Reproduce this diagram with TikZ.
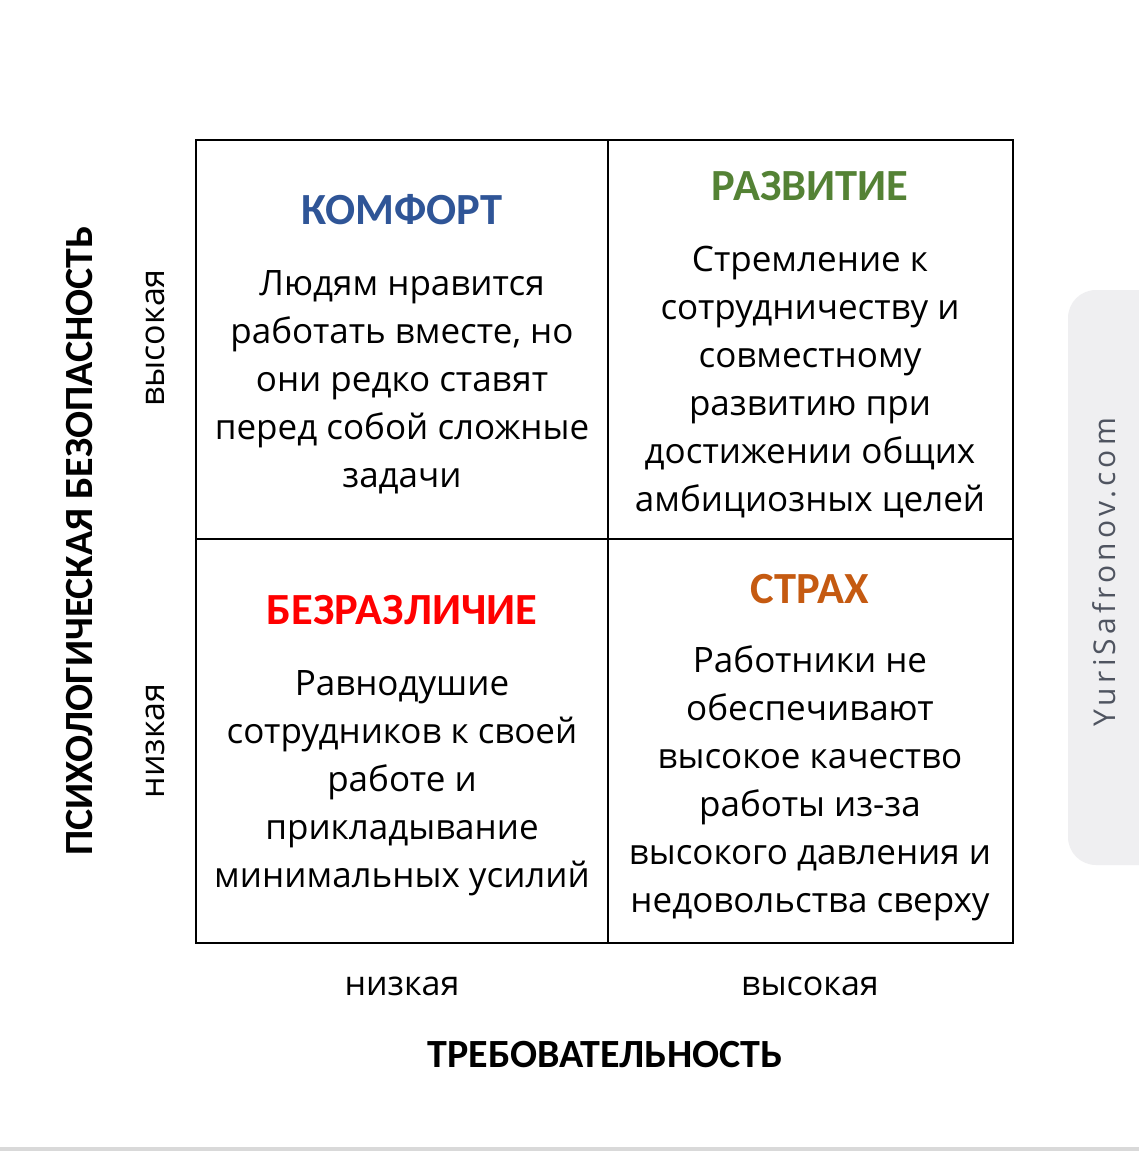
\documentclass[tikz,border=0pt]{standalone}
\usepackage{fontspec}
\setmainfont{Open Sans}
\newfontfamily\titlefont{Carlito}
\newfontfamily\webfont{Open Sans}[LetterSpace=14]
\definecolor{cblue}{HTML}{2F5597}
\definecolor{cgreen}{HTML}{548235}
\definecolor{cred}{HTML}{FF0000}
\definecolor{corange}{HTML}{C55A11}
\definecolor{tabgray}{HTML}{EFEFF1}
\definecolor{webgray}{HTML}{4F5460}
\begin{document}
\begin{tikzpicture}[x=1pt,y=-1pt,
  body/.style={align=center,inner sep=0pt,font=\fontsize{35}{48}\selectfont},
  qtitle/.style={inner sep=0pt,font=\titlefont\bfseries\fontsize{44.5}{48}\selectfont},
  axtitle/.style={inner sep=0pt,font=\titlefont\bfseries\fontsize{40}{44}\selectfont},
  axlab/.style={inner sep=0pt,font=\fontsize{34}{38}\selectfont},
  grid/.style={line width=2pt}]
\useasboundingbox (0,0) rectangle (1139,1151);
\fill[white] (0,0) rectangle (1139,1151);
% side tab
\fill[tabgray,rounded corners=28pt] (1139,290) -- (1068,290) -- (1068,865) -- (1139,865);
\node[rotate=90,inner sep=0pt,text=webgray,font=\webfont\fontsize{30}{34}\selectfont] (web) at (1104,572) {YuriSafronov.com};
% bottom line
\fill[black!15] (0,1147) rectangle (1139,1151);
% grid
\draw[grid] (196,140) rectangle (1013,943);
\draw[grid] (608,140) -- (608,943);
\draw[grid] (196,539) -- (1013,539);
% quadrant titles
\node[qtitle,text=cblue] (t1) at (402,210) {КОМФОРТ};
\node[qtitle,text=cgreen] (t2) at (810,186) {РАЗВИТИЕ};
\node[qtitle,text=cred] (t3) at (402,610) {БЕЗРАЗЛИЧИЕ};
\node[qtitle,text=corange] (t4) at (810,589) {СТРАХ};
% bodies
\node[body] (b1) at (402,382) {Людям нравится\\работать вместе, но\\они редко ставят\\перед собой сложные\\задачи};
\node[body] (b2) at (810,382) {Стремление к\\сотрудничеству и\\совместному\\развитию при\\достижении общих\\амбициозных целей};
\node[body] (b3) at (402,783) {Равнодушие\\сотрудников к своей\\работе и\\прикладывание\\минимальных усилий};
\node[body] (b4) at (810,783) {Работники не\\обеспечивают\\высокое качество\\работы из-за\\высокого давления и\\недовольства сверху};
% axes
\node[axlab,rotate=90] (yh) at (155,338) {высокая};
\node[axlab,rotate=90] (yl) at (155,741) {низкая};
\node[axlab] (xl) at (402,986) {низкая};
\node[axlab] (xh) at (810,986) {высокая};
\node[axtitle,rotate=90] (ytitle) at (80,541) {ПСИХОЛОГИЧЕСКАЯ БЕЗОПАСНОСТЬ};
\node[axtitle] (xtitle) at (605,1055) {ТРЕБОВАТЕЛЬНОСТЬ};
\end{tikzpicture}
\end{document}
